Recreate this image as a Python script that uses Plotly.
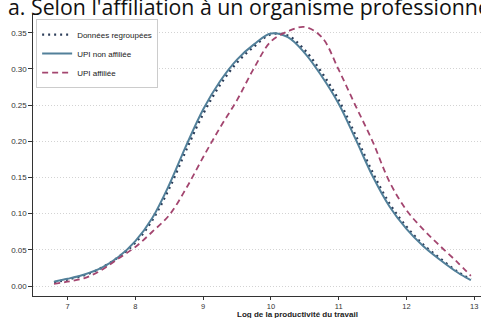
import plotly.graph_objects as go

title_text = "a. Selon l'affiliation à un organisme professionnel"
x_label = "Log de la productivité du travail"

log_prod = [6.8, 7.0, 7.25, 7.5, 7.75, 8.0, 8.25, 8.5, 8.75, 9.0, 9.25, 9.5, 9.75,
            10.0, 10.25, 10.5, 10.75, 11.0, 11.25, 11.5, 11.75, 12.0, 12.25, 12.5, 12.75, 12.95]

pooled = [0.005, 0.009, 0.015, 0.025, 0.040, 0.060, 0.091, 0.135, 0.188, 0.238, 0.278, 0.309, 0.331,
          0.348, 0.346, 0.326, 0.295, 0.257, 0.208, 0.157, 0.114, 0.082, 0.057, 0.038, 0.020, 0.009]

non_affiliated = [0.006, 0.010, 0.016, 0.025, 0.040, 0.062, 0.094, 0.140, 0.194, 0.244, 0.283, 0.313, 0.334,
                  0.349, 0.344, 0.322, 0.290, 0.252, 0.203, 0.152, 0.110, 0.079, 0.055, 0.036, 0.019, 0.008]

affiliated = [0.003, 0.006, 0.011, 0.022, 0.038, 0.054, 0.075, 0.098, 0.135, 0.178, 0.219, 0.257, 0.301,
              0.338, 0.352, 0.358, 0.344, 0.299, 0.249, 0.200, 0.144, 0.105, 0.078, 0.055, 0.033, 0.014]

series_names = ["Données regroupées", "UPI non affiliée", "UPI affiliée"]

x_ticks = [7, 8, 9, 10, 11, 12, 13]
y_ticks = [0.00, 0.05, 0.10, 0.15, 0.20, 0.25, 0.30, 0.35]

fig = go.Figure()
fig.add_trace(go.Scatter(x=log_prod, y=pooled, mode="lines", name=series_names[0],
                         line=dict(color="#2d3e5a", width=2.4, dash="2px,4px", shape="spline")))
fig.add_trace(go.Scatter(x=log_prod, y=non_affiliated, mode="lines", name=series_names[1],
                         line=dict(color="#52809a", width=2.0, shape="spline")))
fig.add_trace(go.Scatter(x=log_prod, y=affiliated, mode="lines", name=series_names[2],
                         line=dict(color="#a3456f", width=1.8, dash="6px,4px", shape="spline")))

fig.update_layout(
    width=481, height=318,
    margin=dict(l=33, r=0, t=14, b=22),
    paper_bgcolor="white", plot_bgcolor="white",
    title=dict(text=title_text, x=8/481, xanchor="left", xref="container",
               y=(318 - 15) / 318, yanchor="bottom", yref="container",
               font=dict(family="Open Sans", size=21.3, color="#111")),
    showlegend=True,
    legend=dict(x=0.007, y=0.982, xanchor="left", yanchor="top",
                bgcolor="white", bordercolor="#cccccc", borderwidth=1,
                font=dict(family="Liberation Sans", size=8, color="#222"),
                tracegroupgap=0, itemwidth=30),
    font=dict(family="Liberation Sans", size=8, color="#333"),
)

fig.update_xaxes(range=[6.49, 13.1], tickvals=x_ticks, showgrid=False, zeroline=False,
                 showline=True, linecolor="#333", linewidth=1.3,
                 ticks="outside", ticklen=3, tickwidth=1, tickcolor="#333",
                 tickfont=dict(size=7.5, color="#333"))
fig.update_yaxes(range=[-0.0138, 0.376], tickvals=y_ticks, tickformat=".2f",
                 showgrid=True, gridcolor="#d3d3d3", griddash="1px,2px", gridwidth=0.8,
                 zeroline=False, showline=True, linecolor="#333", linewidth=1.3,
                 ticks="outside", ticklen=3.5, tickwidth=1, tickcolor="#333",
                 tickfont=dict(size=8, color="#333"))

fig.add_annotation(text="<b>" + x_label + "</b>", xref="paper", yref="paper",
                   x=(297 - 33) / 448, y=0, yshift=-11.5, xanchor="center", yanchor="top",
                   showarrow=False, font=dict(family="Liberation Sans", size=8, color="#222"))

fig.write_html("out.html", config={"displayModeBar": False},
               post_script="document.body.style.margin='0';document.body.style.padding='0';")
